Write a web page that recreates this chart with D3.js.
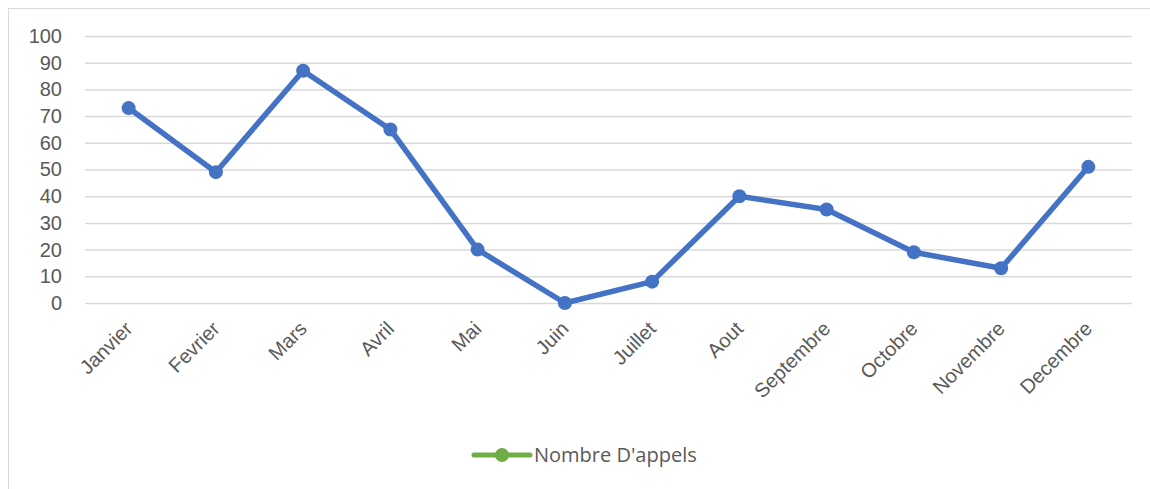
<!DOCTYPE html>
<html>
<head>
<meta charset="utf-8">
<script src="https://cdn.jsdelivr.net/npm/d3@7"></script>
<style>
  body { margin: 0; background: #fff; }
  svg { font-family: "Open Sans", "Noto Sans", sans-serif; }
</style>
</head>
<body>
<div id="chart"></div>
<script>
// données
var mois = ["Janvier", "Fevrier", "Mars", "Avril", "Mai", "Juin", "Juillet", "Aout", "Septembre", "Octobre", "Novembre", "Decembre"];
var appels = [73, 49, 87, 65, 20, 0, 8, 40, 35, 19, 13, 51];
var ticksY = [0, 10, 20, 30, 40, 50, 60, 70, 80, 90, 100];
var nomSerie = "Nombre D'appels";

var width = 1150, height = 489;
var svg = d3.select("#chart").append("svg")
    .attr("width", width)
    .attr("height", height);

// cadre
svg.append("rect")
    .attr("x", 8.5).attr("y", 8.5)
    .attr("width", width - 8).attr("height", height)
    .attr("fill", "none")
    .attr("stroke", "#d9d9d9");

var x = d3.scaleBand().domain(mois).range([85, 1132]);
var y = d3.scaleLinear().domain([0, 100]).range([303, 36]);

// grille
svg.append("g").selectAll("line")
    .data(ticksY)
    .enter().append("line")
    .attr("x1", 85).attr("x2", 1132)
    .attr("y1", function (d) { return y(d) + 0.5; })
    .attr("y2", function (d) { return y(d) + 0.5; })
    .attr("stroke", "#d9d9d9")
    .attr("stroke-width", 1.5);

// axe Y
var axeY = svg.append("g")
    .attr("transform", "translate(62,0)")
    .call(d3.axisLeft(y).tickValues(ticksY).tickSize(0).tickPadding(0));
axeY.select(".domain").remove();
axeY.selectAll("text")
    .attr("fill", "#595959")
    .style("font-size", "20px");

// axe X
var axeX = svg.append("g")
    .attr("transform", "translate(0,303)")
    .call(d3.axisBottom(x).tickSize(0).tickPadding(0));
axeX.select(".domain").remove();
axeX.selectAll("text")
    .attr("fill", "#595959")
    .style("font-size", "20px")
    .attr("text-anchor", "end")
    .attr("dy", "0")
    .attr("transform", "translate(5,27) rotate(-45)");

// ligne
var ligne = d3.line()
    .x(function (d, i) { return x(mois[i]) + x.bandwidth() / 2; })
    .y(function (d) { return y(d); });

svg.append("path")
    .datum(appels)
    .attr("d", ligne)
    .attr("fill", "none")
    .attr("stroke", "#4472c4")
    .attr("stroke-width", 5.5)
    .attr("stroke-linejoin", "round")
    .attr("stroke-linecap", "round");

svg.selectAll("circle.point")
    .data(appels)
    .enter().append("circle")
    .attr("class", "point")
    .attr("cx", function (d, i) { return x(mois[i]) + x.bandwidth() / 2; })
    .attr("cy", function (d) { return y(d); })
    .attr("r", 7)
    .attr("fill", "#4472c4");

// légende
var legende = svg.append("g").attr("transform", "translate(474,455)");
legende.append("line")
    .attr("x1", 0).attr("x2", 56)
    .attr("stroke", "#70ad47")
    .attr("stroke-width", 5)
    .attr("stroke-linecap", "round");
legende.append("circle")
    .attr("cx", 28).attr("r", 7)
    .attr("fill", "#70ad47");
legende.append("text")
    .attr("x", 60).attr("dy", "0.35em")
    .attr("fill", "#595959")
    .style("font-size", "20px")
    .text(nomSerie);
</script>
</body>
</html>
